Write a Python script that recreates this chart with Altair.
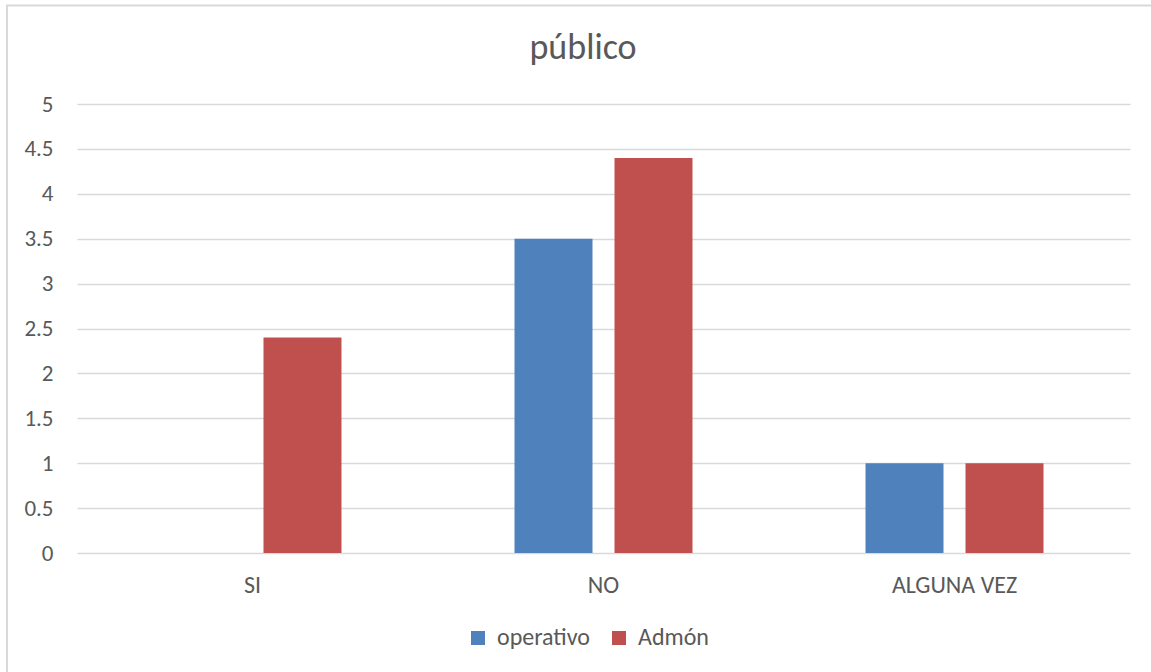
import altair as alt
import pandas as pd

# Survey answers and counts per staff group
categories = ["SI", "NO", "ALGUNA VEZ"]
series = ["operativo", "Admón"]
operativo_vals = [0, 3.5, 1]
admon_vals = [2.4, 4.4, 1]
y_ticks = [0, 0.5, 1, 1.5, 2, 2.5, 3, 3.5, 4, 4.5, 5]
colors = ["#4F81BD", "#C0504D"]
title_text = "público"

rows = []
for cat, v in zip(categories, operativo_vals):
    rows.append({"cat": cat, "serie": "operativo", "valor": v})
for cat, v in zip(categories, admon_vals):
    rows.append({"cat": cat, "serie": "Admón", "valor": v})
df = pd.DataFrame(rows)

FONT = "Carlito, Open Sans, sans-serif"
TEXT = "#595959"
GRID = "#D9D9D9"

bars = alt.Chart(df).mark_bar().encode(
    x=alt.X("cat:N", sort=categories, title=None,
            scale=alt.Scale(paddingInner=0.4929, paddingOuter=0.2464),
            axis=alt.Axis(labelAngle=0, labelFontSize=24, labelColor=TEXT,
                          labelFont=FONT, labelPadding=20, ticks=False,
                          domain=False, grid=False)),
    xOffset=alt.XOffset("serie:N", sort=series,
                        scale=alt.Scale(paddingInner=0.22, paddingOuter=0)),
    y=alt.Y("valor:Q", title=None,
            scale=alt.Scale(domain=[0, 5], nice=False),
            axis=alt.Axis(values=y_ticks, format="~g", labelFontSize=23,
                          labelColor=TEXT, labelFont=FONT, labelPadding=24,
                          ticks=False, domain=False, grid=True,
                          gridColor=GRID, gridWidth=1.3)),
    color=alt.Color("serie:N", sort=series,
                    scale=alt.Scale(domain=series, range=colors),
                    legend=alt.Legend(title=None, orient="none",
                                      direction="horizontal",
                                      legendX=389, legendY=522,
                                      symbolType="square", symbolSize=196,
                                      symbolStrokeWidth=0,
                                      labelFontSize=24, labelColor=TEXT,
                                      labelFont=FONT, labelOffset=7,
                                      columnPadding=17)),
)

one = pd.DataFrame({"t": [title_text]})
heading = alt.Chart(one).mark_text(
    font=FONT, fontSize=36, color=TEXT, align="center", baseline="alphabetic"
).encode(x=alt.value(506), y=alt.value(-45), text="t:N")

frame_left = alt.Chart(one).mark_rule(color=GRID, strokeWidth=2).encode(
    x=alt.value(-70), y=alt.value(-98.5), y2=alt.value(568))
frame_top = alt.Chart(one).mark_rule(color=GRID, strokeWidth=2).encode(
    x=alt.value(-71), x2=alt.value(1074), y=alt.value(-98.5))

chart = alt.layer(bars, heading, frame_left, frame_top).properties(
    width=1053, height=449,
    background="white",
    autosize=alt.AutoSizeParams(type="none"),
    padding={"left": 77, "top": 104, "right": 21, "bottom": 119},
).configure_view(strokeWidth=0, stroke="transparent")

chart.save("out.html", embed_options={"renderer": "svg", "actions": False})
